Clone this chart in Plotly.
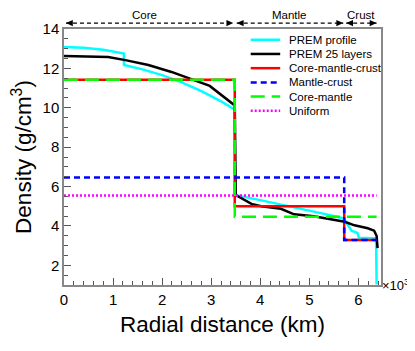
import plotly.graph_objects as go

# radius in units of 10^3 km, density in g/cm^3
prem_r = [0, 0.4, 0.8, 1.2215, 1.2215, 1.6, 2.0, 2.4, 2.8, 3.2, 3.48, 3.48,
          4.0, 4.5, 5.0, 5.4, 5.70, 5.86, 5.98, 6.01, 6.36, 6.365, 6.368, 6.371]
prem_rho = [13.09, 13.05, 12.95, 12.76, 12.17, 11.95, 11.66, 11.29, 10.85, 10.33, 9.90, 5.57,
            5.31, 5.05, 4.79, 4.56, 4.38, 3.76, 3.64, 3.40, 3.36, 2.90, 2.60, 1.02]

layers_r = [0, 0.9, 1.25, 1.72, 2.19, 2.6, 2.97, 3.48, 3.5, 3.82, 4.02, 4.42, 4.69,
            5.09, 5.45, 5.72, 5.92, 6.19, 6.32, 6.37, 6.39]
layers_rho = [12.63, 12.58, 12.42, 12.17, 11.82, 11.45, 11.11, 10.12, 5.57, 5.12, 5.0, 4.87, 4.59,
              4.49, 4.33, 4.21, 4.03, 3.88, 3.76, 3.5, 2.87]

cmc_r = [0, 3.48, 3.48, 5.71, 5.71, 6.371]
cmc_rho = [11.42, 11.42, 5.0, 5.0, 3.29, 3.29]

mc_r = [0, 5.71, 5.71, 6.371]
mc_rho = [6.46, 6.46, 3.29, 3.29]

cm_r = [0, 3.48, 3.48, 6.371]
cm_rho = [11.42, 11.42, 4.46, 4.46]

uni_r = [0, 6.371]
uni_rho = [5.54, 5.54]

regions = ["Core", "Mantle", "Crust"]
region_start = [0.04, 3.52, 5.75]
region_end = [3.45, 5.69, 6.37]
region_label_x = [1.65, 4.6, 6.05]

series = [
    ("PREM profile", prem_r, prem_rho, dict(color="#00ffff", width=2.5)),
    ("PREM 25 layers", layers_r, layers_rho, dict(color="black", width=2.5)),
    ("Core-mantle-crust", cmc_r, cmc_rho, dict(color="#ff0000", width=2.5)),
    ("Mantle-crust", mc_r, mc_rho, dict(color="#0000ff", width=2.5, dash="6px,4px")),
    ("Core-mantle", cm_r, cm_rho, dict(color="#00ff00", width=2.5, dash="14px,7px")),
    ("Uniform", uni_r, uni_rho, dict(color="#ff00ff", width=2.5, dash="2px,2px")),
]

fig = go.Figure()
for name, r, rho, ln in series:
    fig.add_trace(go.Scatter(x=r, y=rho, mode="lines", name=name, line=ln, showlegend=False))

# legend drawn by hand (plotly's rows are too tall for this layout)
for i, (name, r, rho, ln) in enumerate(series):
    yy = 0.958 - i * 0.0555
    fig.add_shape(type="line", xref="paper", yref="paper", x0=0.589, x1=0.682, y0=yy, y1=yy,
                  line=ln)
    fig.add_annotation(x=0.703, y=yy, xref="paper", yref="paper", text=name, showarrow=False,
                       xanchor="left", yanchor="middle", font=dict(size=11.5))

# region arrows above the frame
ya = 1.023
for name, a, b, lx in zip(regions, region_start, region_end, region_label_x):
    fig.add_shape(type="line", xref="x", yref="paper", x0=a, x1=b, y0=ya, y1=ya,
                  line=dict(color="black", width=1.2, dash="4px,3px"))
    fig.add_shape(type="path", xref="x", yref="paper", fillcolor="black", line=dict(width=0),
                  path=f"M {a} {ya} L {a + 0.14} {ya + 0.012} L {a + 0.14} {ya - 0.012} Z")
    fig.add_shape(type="path", xref="x", yref="paper", fillcolor="black", line=dict(width=0),
                  path=f"M {b} {ya} L {b - 0.14} {ya + 0.012} L {b - 0.14} {ya - 0.012} Z")
    fig.add_annotation(x=lx, y=1.054, xref="x", yref="paper", text=name, showarrow=False,
                       font=dict(size=11.5), yanchor="middle")

fig.add_annotation(x=1.0, y=0.0, xref="paper", yref="paper", text="×10<sup>3</sup>",
                   showarrow=False, xanchor="left", yanchor="middle", xshift=-1,
                   font=dict(size=13))

fig.update_xaxes(range=[0, 6.46], dtick=1, ticks="inside", ticklen=7, tickcolor="#555",
                 showgrid=False, zeroline=False, showline=True, linecolor="#888", linewidth=1.5,
                 mirror=True, tickfont=dict(size=15),
                 minor=dict(dtick=0.2, ticks="inside", ticklen=4, tickcolor="#555"),
                 title=dict(text="Radial distance (km)", font=dict(size=22.5), standoff=9))
fig.update_yaxes(range=[1, 14], dtick=2, ticks="inside", ticklen=7, tickcolor="#555",
                 showgrid=False, zeroline=False, showline=True, linecolor="#888", linewidth=1.5,
                 mirror=True, tickfont=dict(size=15),
                 minor=dict(dtick=0.5, ticks="inside", ticklen=4, tickcolor="#555"),
                 title=dict(text="Density (g/cm<sup>3</sup>)", font=dict(size=22.5), standoff=7))

# the page body adds an 8px margin, so the figure is 8px smaller than the window
fig.update_layout(
    width=407, height=343,
    margin=dict(l=50, r=34, t=13, b=66),
    plot_bgcolor="white", paper_bgcolor="white",
    font=dict(family="Liberation Sans, Arial, sans-serif", color="black"),
    showlegend=False,
)

fig.write_html("out.html")
